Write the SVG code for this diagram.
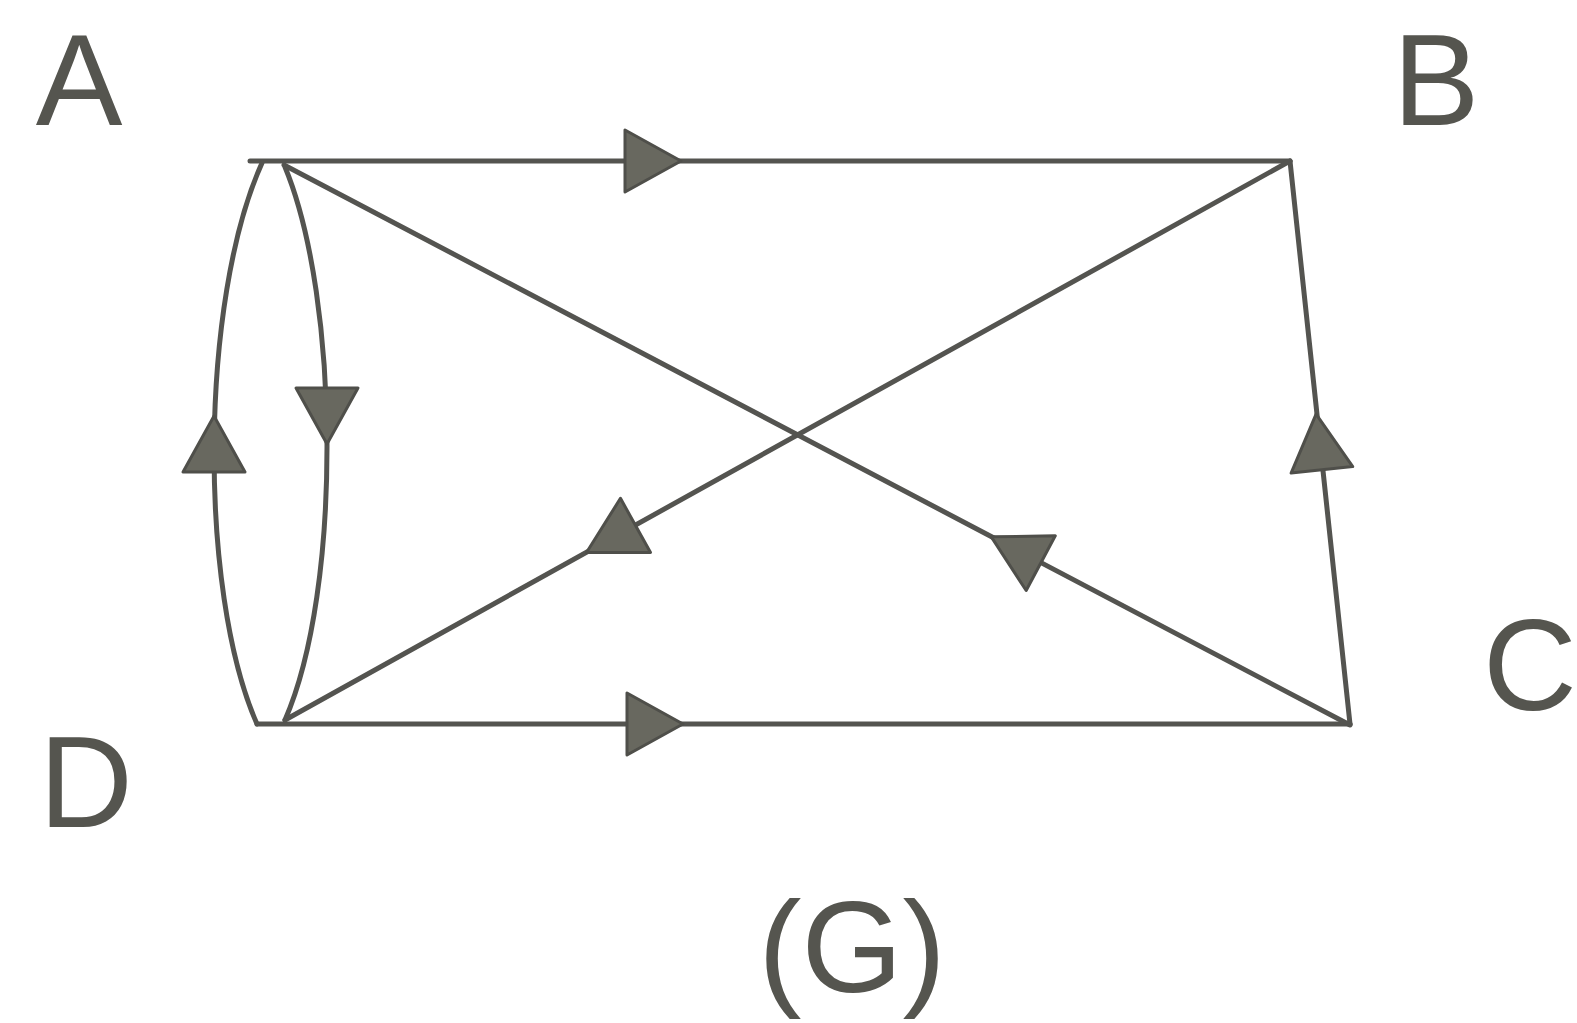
<svg xmlns="http://www.w3.org/2000/svg" width="1577" height="1023" viewBox="0 0 1577 1023">
  <style>
    .edge { fill: none; stroke: #545450; stroke-width: 5; stroke-linecap: round; }
    .arr { fill: #68685f; stroke: #4f4f4a; stroke-width: 3; stroke-linejoin: round; }
    .lbl { font-family: "Liberation Sans", Arial, sans-serif; font-size: 130px; fill: #55554f; }
  </style>
  <defs>
    <path id="arrow" d="M28,0 L-28,-31 L-28,31 Z"/>
  </defs>
  <rect x="0" y="0" width="1577" height="1023" fill="#ffffff"/>

  <g id="connectors">
    <!-- A -> B -->
    <line class="edge" x1="250" y1="161" x2="1290" y2="161"/>
    <use href="#arrow" class="arr" transform="translate(653,161)"/>
    <!-- D -> C -->
    <line class="edge" x1="257" y1="724" x2="1350" y2="724"/>
    <use href="#arrow" class="arr" transform="translate(655,724)"/>
    <!-- D -> A (outer arc) -->
    <path class="edge" d="M262,163 C200,300 198,590 257,724"/>
    <use href="#arrow" class="arr" transform="translate(214,444) rotate(-90)"/>
    <!-- A -> D (inner arc) -->
    <path class="edge" d="M285,167 C340,300 342,590 285,720"/>
    <use href="#arrow" class="arr" transform="translate(327,416) rotate(90)"/>
    <!-- C -> B -->
    <line class="edge" x1="1290" y1="161" x2="1350" y2="724"/>
    <use href="#arrow" class="arr" transform="translate(1319,442) rotate(-96)"/>
    <!-- B -> D -->
    <line class="edge" x1="1290" y1="161" x2="285" y2="720"/>
    <use href="#arrow" class="arr" transform="translate(611,539) rotate(151)"/>
    <!-- C -> A -->
    <line class="edge" x1="1350" y1="725" x2="284" y2="165"/>
    <use href="#arrow" class="arr" transform="translate(1016,550) rotate(-152)"/>
  </g>

  <g id="node-A"><text class="lbl" x="79" y="125" text-anchor="middle">A</text></g>
  <g id="node-B"><text class="lbl" x="1436" y="125" text-anchor="middle">B</text></g>
  <g id="node-C"><text class="lbl" x="1483" y="710">C</text></g>
  <g id="node-D"><text class="lbl" x="86" y="827" text-anchor="middle">D</text></g>
  <g id="caption"><text class="lbl" x="852" y="992" text-anchor="middle">(G)</text></g>
</svg>
